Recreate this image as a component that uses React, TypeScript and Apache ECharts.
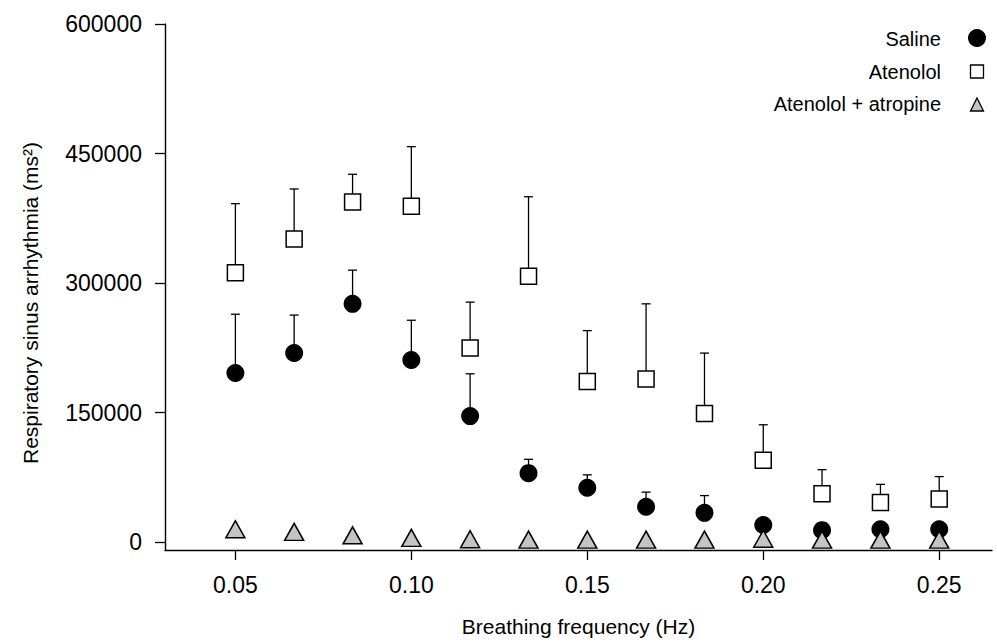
import React, { useEffect, useRef } from "react";
import * as echarts from "echarts";

const frequencies = [0.05, 0.0667, 0.0833, 0.1, 0.1167, 0.1333, 0.15, 0.1667, 0.1833, 0.2, 0.2167, 0.2333, 0.25];
const salineMean = [196000, 219000, 276000, 211000, 146000, 80000, 63000, 41000, 34000, 20000, 14000, 15000, 15000];
const salineUpper = [264000, 263000, 315000, 257000, 195000, 96000, 78000, 58000, 54000, 26000, 19000, 20000, 20000];
const atenololMean = [312000, 351000, 394000, 389000, 225000, 308000, 186000, 189000, 149000, 95000, 56000, 46000, 50000];
const atenololUpper = [392000, 409000, 426000, 458000, 278000, 400000, 245000, 276000, 219000, 136000, 84000, 67000, 76000];
const atropineMean = [15000, 12000, 8000, 5000, 3500, 3000, 3000, 3000, 3000, 4000, 3000, 3000, 3000];
const yTicks = [0, 150000, 300000, 450000, 600000];
const xTicks = [0.05, 0.1, 0.15, 0.2, 0.25];
const legendNames = ["Saline", "Atenolol", "Atenolol + atropine"];
const yTitle = "Respiratory sinus arrhythmia (ms²)";
const xTitle = "Breathing frequency (Hz)";

const FONT = "'Liberation Sans', Arial, Helvetica, sans-serif";

function errorSeries(means: number[], uppers: number[]) {
  return {
    type: "custom",
    z: 1,
    silent: true,
    data: frequencies.map((f, i) => [f, means[i], uppers[i]]),
    renderItem: (params: any, api: any) => {
      const x = api.value(0);
      const y = api.value(1);
      const hi = api.value(2);
      const p0 = api.coord([x, y]);
      const p1 = api.coord([x, hi]);
      const style = { stroke: "#000", lineWidth: 1.3 };
      return {
        type: "group",
        children: [
          { type: "line", shape: { x1: p0[0], y1: p0[1], x2: p1[0], y2: p1[1] }, style },
          { type: "line", shape: { x1: p1[0] - 4.5, y1: p1[1], x2: p1[0] + 4.5, y2: p1[1] }, style },
        ],
      };
    },
  };
}

export default function App() {
  const ref = useRef<HTMLDivElement>(null);
  useEffect(() => {
    if (!ref.current) return;
    const chart = echarts.init(ref.current, undefined, { renderer: "svg" });
    const axisCommon = {
      type: "value",
      splitLine: { show: false },
      axisLine: { show: true, onZero: false, lineStyle: { color: "#000", width: 1.4 } },
      axisTick: { show: true, inside: false, length: 10, lineStyle: { color: "#000", width: 1.3 } },
    };
    chart.setOption({
      animation: false,
      backgroundColor: "#fff",
      textStyle: { fontFamily: FONT },
      grid: { left: 165, right: 5, top: 24, bottom: 92, containLabel: false, outerBoundsMode: "none" },
      xAxis: {
        ...axisCommon,
        min: 0.03,
        max: 0.265,
        axisTick: { ...axisCommon.axisTick, customValues: xTicks },
        axisLabel: {
          customValues: xTicks,
          formatter: (v: number) => v.toFixed(2),
          fontSize: 23,
          color: "#000",
          margin: 23,
          fontFamily: FONT,
        },
        name: xTitle,
        nameLocation: "middle",
        nameGap: 66,
        nameTextStyle: { fontSize: 21, color: "#000", fontFamily: FONT },
      },
      yAxis: {
        ...axisCommon,
        min: -9000,
        max: 600000,
        axisTick: { ...axisCommon.axisTick, customValues: yTicks },
        axisLabel: {
          customValues: yTicks,
          formatter: (v: number) => String(Math.round(v)),
          fontSize: 23,
          color: "#000",
          margin: 23,
          fontFamily: FONT,
        },
      },
      series: [
        errorSeries(salineMean, salineUpper),
        errorSeries(atenololMean, atenololUpper),
        {
          name: legendNames[0],
          type: "scatter",
          z: 2,
          symbol: "circle",
          symbolSize: 18,
          itemStyle: { color: "#000", opacity: 1 },
          data: frequencies.map((f, i) => [f, salineMean[i]]),
        },
        {
          name: legendNames[1],
          type: "scatter",
          z: 3,
          symbol: "rect",
          symbolSize: 16,
          itemStyle: { color: "#fff", borderColor: "#000", borderWidth: 1.5, opacity: 1 },
          data: frequencies.map((f, i) => [f, atenololMean[i]]),
        },
        {
          name: legendNames[2],
          type: "scatter",
          z: 4,
          symbol: "triangle",
          symbolSize: [19, 17],
          itemStyle: { color: "#c4c4c4", borderColor: "#000", borderWidth: 1.5, opacity: 1 },
          data: frequencies.map((f, i) => [f, atropineMean[i]]),
        },
      ],
      graphic: [
        {
          type: "text",
          x: 30,
          y: 303,
          rotation: Math.PI / 2,
          style: { text: yTitle, align: "center", verticalAlign: "middle", fontSize: 21, fill: "#000", fontFamily: FONT },
        },
        { type: "text", x: 941, y: 39, style: { text: legendNames[0], align: "right", verticalAlign: "middle", fontSize: 20, fill: "#000", fontFamily: FONT } },
        { type: "text", x: 941, y: 72, style: { text: legendNames[1], align: "right", verticalAlign: "middle", fontSize: 20, fill: "#000", fontFamily: FONT } },
        { type: "text", x: 941, y: 104, style: { text: legendNames[2], align: "right", verticalAlign: "middle", fontSize: 20, fill: "#000", fontFamily: FONT } },
        { type: "circle", shape: { cx: 977, cy: 38, r: 9 }, style: { fill: "#000" } },
        { type: "rect", shape: { x: 970.5, y: 65, width: 13, height: 13 }, style: { fill: "#fff", stroke: "#000", lineWidth: 1.3 } },
        { type: "polygon", shape: { points: [[977, 98], [983.5, 111], [970.5, 111]] }, style: { fill: "#c4c4c4", stroke: "#000", lineWidth: 1.3 } },
      ],
    });
    return () => chart.dispose();
  }, []);
  return <div ref={ref} style={{ position: "absolute", left: 0, top: 0, width: 997, height: 642 }} />;
}
